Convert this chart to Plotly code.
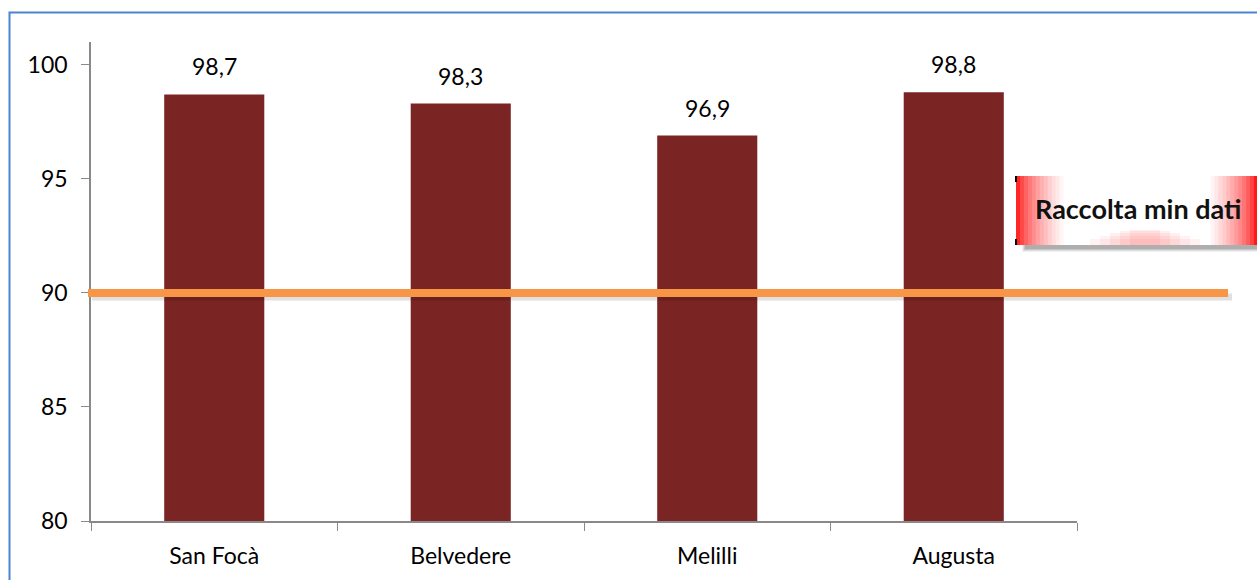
import plotly.graph_objects as go

categories = ["San Focà", "Belvedere", "Melilli", "Augusta"]
values = [98.7, 98.3, 96.9, 98.8]
threshold = 90
threshold_label = "Raccolta min dati"
y_ticks = [80, 85, 90, 95, 100]

W, H = 1257, 580
ML, MR, MT, MB = 91, 180, 42, 59
PW, PH = W - ML - MR, H - MT - MB


def px(x):
    return (x - ML) / PW


def py(y):
    return (H - MB - y) / PH


fig = go.Figure()
fig.add_trace(go.Bar(
    x=categories, y=values,
    marker=dict(color="#7a2423", line=dict(width=0)),
    width=0.406, hoverinfo="x+y",
))

for c, v in zip(categories, values):
    fig.add_annotation(x=c, y=v, text=f"{v:.1f}".replace(".", ","), showarrow=False,
                       yanchor="bottom", yshift=12,
                       font=dict(family="Lato", size=23, color="#000000"))

shapes = []
# outer blue border
shapes.append(dict(type="rect", xref="paper", yref="paper",
                   x0=px(9.5), x1=px(1300), y0=py(12.5), y1=py(640),
                   line=dict(color="#4a86d0", width=2), fillcolor="rgba(0,0,0,0)", layer="above"))

# threshold line shadow + line
shapes.append(dict(type="line", xref="paper", yref="paper",
                   x0=px(92), x1=px(1232), y0=py(297), y1=py(297),
                   line=dict(color="rgba(0,0,0,0.12)", width=7), layer="above"))
shapes.append(dict(type="line", xref="paper", yref="y",
                   x0=px(88), x1=px(1228), y0=threshold, y1=threshold,
                   line=dict(color="#f79646", width=8), layer="above"))

# label box: shadow + gradient strips
for k, a in enumerate([0.06, 0.08, 0.10, 0.12]):
    shapes.append(dict(type="rect", xref="paper", yref="paper",
                       x0=px(1022 + k), x1=px(1265), y0=py(178), y1=py(252 - k),
                       fillcolor=f"rgba(0,0,0,{a})", line=dict(width=0), layer="above"))
bx0, bx1 = 1016, 1262
by0, by1 = 176, 245
n = 62
step = (bx1 - bx0) / n
for i in range(n):
    xa = bx0 + step * i
    xb = xa + step + 1.2
    xm = xa + step / 2
    d = min(xm - bx0, 1257 - xm)
    t = min(1.0, max(0.0, d / 48.0))
    g = int(round(255 * t ** 0.6))
    shapes.append(dict(type="rect", xref="paper", yref="paper",
                       x0=px(xa), x1=px(min(xb, bx1)), y0=py(by0), y1=py(by1),
                       fillcolor=f"rgb(255,{g},{g})", line=dict(width=0), layer="above"))
# soft bottom glow (layered, elliptical-ish)
for w, h, a in [(55, 6, 0.06), (45, 9, 0.06), (35, 12, 0.07), (25, 14, 0.08), (15, 15, 0.08)]:
    shapes.append(dict(type="rect", xref="paper", yref="paper",
                       x0=px(1145 - w), x1=px(1145 + w), y0=py(245 - h), y1=py(245),
                       fillcolor=f"rgba(255,40,40,{a})", line=dict(width=0), layer="above"))
# tiny black corner marks
for yy in [(176, 182), (239, 245)]:
    shapes.append(dict(type="rect", xref="paper", yref="paper",
                       x0=px(1015), x1=px(1017), y0=py(yy[0]), y1=py(yy[1]),
                       fillcolor="#000000", line=dict(width=0), layer="above"))

fig.add_annotation(xref="paper", yref="paper", x=px(1033), y=py(208),
                   xanchor="left", yanchor="middle", showarrow=False,
                   text=f"<b>{threshold_label}</b>",
                   font=dict(family="Lato", size=27, color="#111111"))

fig.update_layout(
    width=W, height=H,
    margin=dict(l=ML, r=MR, t=MT, b=MB, autoexpand=False),
    paper_bgcolor="white", plot_bgcolor="white",
    showlegend=False,
    shapes=shapes,
    bargap=0.594,
    font=dict(family="Lato", size=23, color="#000000"),
    xaxis=dict(showline=True, linecolor="#898989", linewidth=1.5,
               ticks="outside", tickson="boundaries", ticklen=8, tickcolor="#898989",
               tickfont=dict(family="Lato", size=23), ticklabelstandoff=14,
               showgrid=False, zeroline=False),
    yaxis=dict(range=[80, 101], tickvals=y_ticks, showline=True, linecolor="#898989",
               linewidth=1.5, ticks="outside", ticklen=8, tickcolor="#898989",
               tickfont=dict(family="Lato", size=23), ticklabelstandoff=9,
               showgrid=False, zeroline=False),
)

fig.write_html("out.html")
